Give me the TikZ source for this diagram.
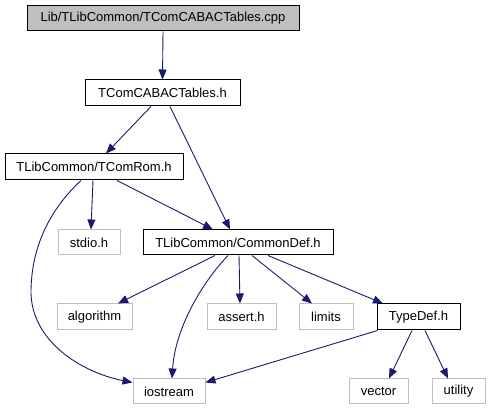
\documentclass[tikz,border=0pt]{standalone}
\usepackage{fontspec}
\setmainfont{Liberation Sans}
\usetikzlibrary{arrows.meta}
\definecolor{edgeblue}{HTML}{191970}
\definecolor{grey75}{HTML}{BFBFBF}
\begin{document}
\begin{tikzpicture}[x=1pt,y=-1pt,
  box/.style={draw=black,line width=1pt,rectangle,minimum height=25pt,inner sep=0pt,font=\fontsize{13}{15}\selectfont,fill=white},
  extbox/.style={box,draw=grey75},
  rootbox/.style={box,fill=grey75},
  edge/.style={draw=edgeblue,line width=0.9pt,-{Triangle[length=10pt,width=8pt,fill=edgeblue]}}
]
\useasboundingbox (0,0) rectangle (491,411);
\node[rootbox,minimum width=272pt] (cpp) at (163,18.5) {Lib/TLibCommon/TComCABACTables.cpp};
\node[box,minimum width=155pt,minimum height=26pt] (cabac) at (162.5,93) {TComCABACTables.h};
\node[box,minimum width=178pt,minimum height=26pt] (rom) at (94,167) {TLibCommon/TComRom.h};
\node[extbox,minimum width=62pt] (stdio) at (89,242.5) {stdio.h};
\node[box,minimum width=190pt] (cdef) at (238,242.5) {TLibCommon/CommonDef.h};
\node[extbox,minimum width=75pt,minimum height=26pt] (algo) at (94.5,317) {algorithm};
\node[extbox,minimum width=69pt,minimum height=26pt] (assert) at (241.5,317) {assert.h};
\node[extbox,minimum width=54pt,minimum height=26pt] (limits) at (326,317) {limits};
\node[box,minimum width=83pt,minimum height=26pt] (typedef) at (418.5,317) {TypeDef.h};
\node[extbox,minimum width=72pt] (ios) at (169,391.5) {iostream};
\node[extbox,minimum width=59pt] (vector) at (378.5,391.5) {vector};
\node[extbox,minimum width=53pt] (utility) at (458.5,391.5) {utility};

\path[edge] (cpp.south) -- (cabac.north);
\path[edge] ([xshift=-11.5pt]cabac.south) -- ([xshift=12pt]rom.north);
\path[edge] ([xshift=7.5pt]cabac.south) -- ([xshift=-8pt]cdef.north);
\path[edge] ([xshift=-1pt]rom.south) -- ([xshift=2pt]stdio.north);
\path[edge] ([xshift=23pt]rom.south) -- ([xshift=-25pt]cdef.north);
\path[edge] ([xshift=-13pt]rom.south) .. controls (60,200) and (32,235) .. (31,290) .. controls (30,340) and (80,372) .. ([yshift=9pt]ios.west);
\path[edge] ([xshift=-23pt]cdef.south) -- ([xshift=23.5pt]algo.north);
\path[edge] ([xshift=-10pt]cdef.south) .. controls (200,285) and (175,330) .. ([xshift=3pt]ios.north);
\path[edge] ([xshift=1pt]cdef.south) -- ([xshift=-1.5pt]assert.north);
\path[edge] ([xshift=14pt]cdef.south) -- ([xshift=-14pt]limits.north);
\path[edge] ([xshift=30pt]cdef.south) -- ([xshift=-35.5pt]typedef.north);
\path[edge] ([xshift=1pt]typedef.south west) -- ([yshift=-4pt]ios.north east);
\path[edge] ([xshift=-6.5pt]typedef.south) -- ([xshift=10.5pt]vector.north);
\path[edge] ([xshift=6.5pt]typedef.south) -- ([xshift=-10.5pt]utility.north);
\end{tikzpicture}
\end{document}
